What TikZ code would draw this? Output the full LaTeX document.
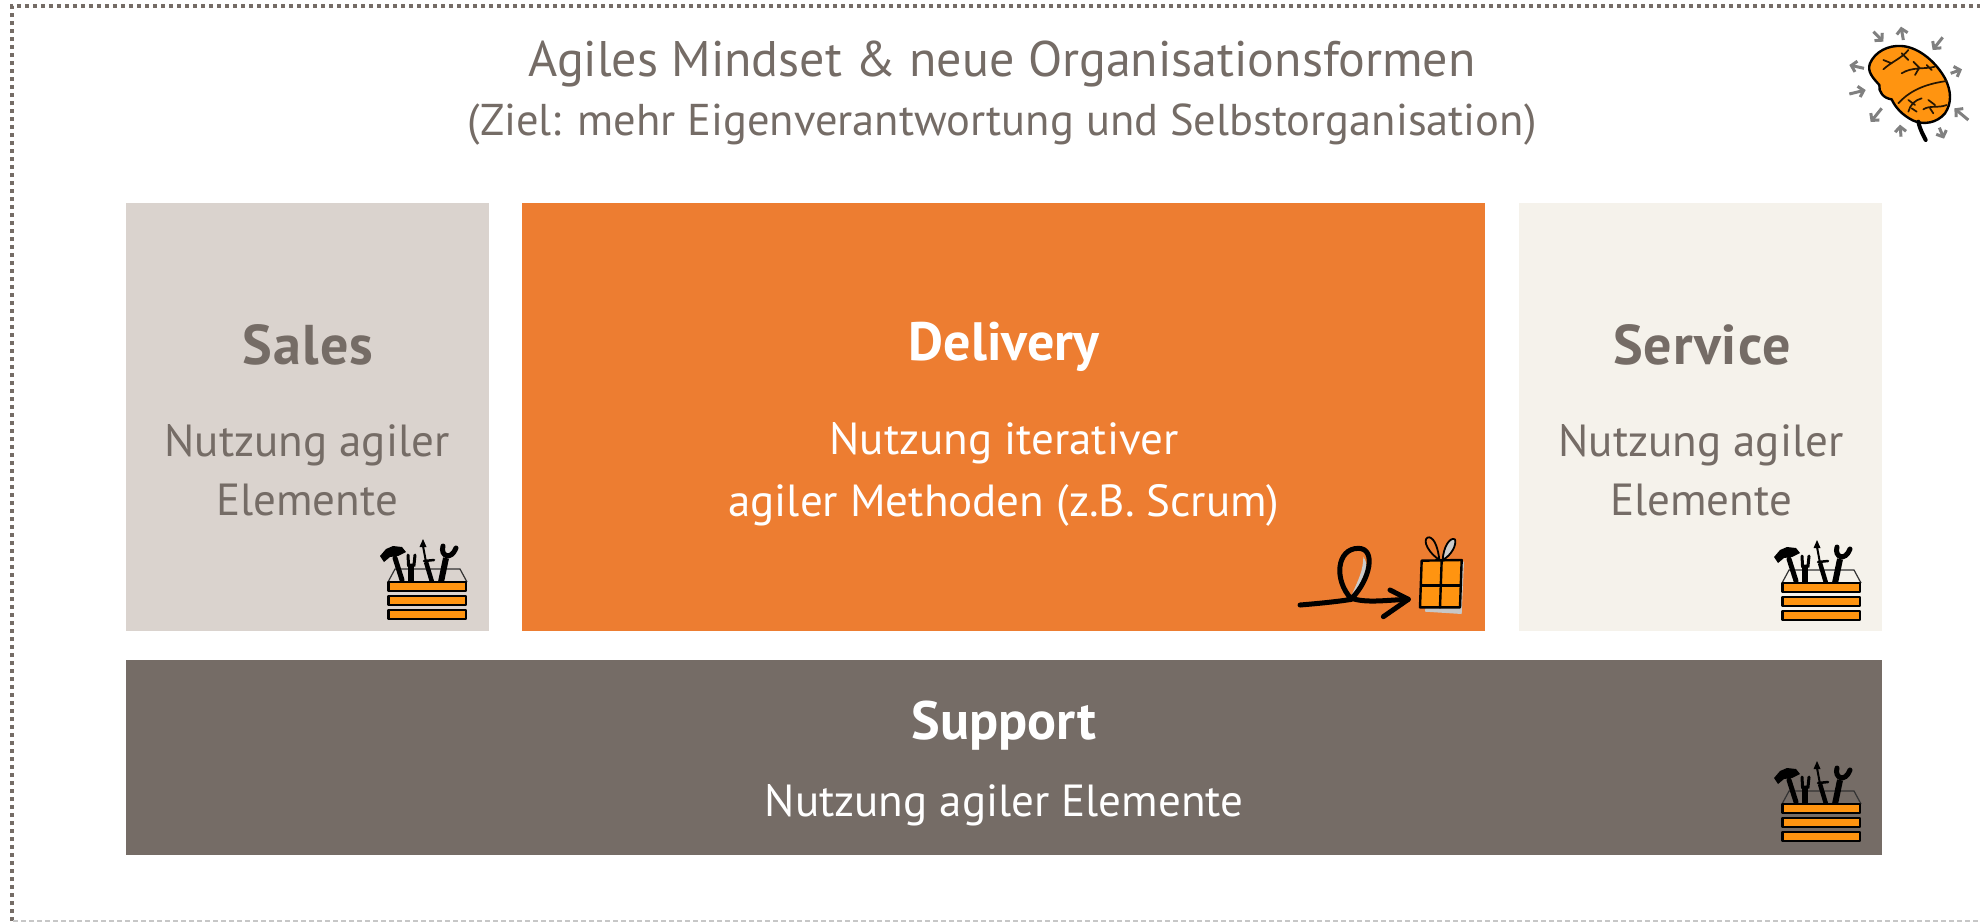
\documentclass[tikz,border=0pt]{standalone}
\usepackage{fontspec}
\setmainfont{PT Sans}
\usetikzlibrary{arrows.meta}
\definecolor{taupe}{HTML}{756C66}
\definecolor{salesgray}{HTML}{DAD3CE}
\definecolor{servicecream}{HTML}{F5F2EB}
\definecolor{deliveryorange}{HTML}{ED7D31}
\definecolor{iconorange}{HTML}{FF9410}
\begin{document}
\begin{tikzpicture}[
    x=1pt, y=-1pt,
    every node/.style={align=center, text=taupe},
    column box/.style={minimum height=428pt, inner sep=0pt},
    head label/.style={font=\fontsize{56}{60}\bfseries\selectfont\addfontfeature{LetterSpace=2}},
    body label/.style={font=\fontsize{45}{59}\selectfont},
    icon line/.style={draw=black, line width=2.4pt, line cap=round, line join=round},
    tool line/.style={draw=black, line width=5pt, line cap=round},
    crack line/.style={draw=black!85!iconorange, line width=1.7pt, line cap=round},
    brain arrow/.style={draw=black!50, line width=3pt, -{Straight Barb[length=5pt,width=11pt]}},
    tool box/.pic={
        \draw[draw=black!80, line width=1.2pt] (0,0) -- (7,-13) -- (72,-13) -- (79,0);
        \foreach \bary in {0,14,28}
            \draw[icon line, fill=iconorange] (0.5,\bary) rectangle (78,\bary+9);
        % hammer
        \draw[tool line] (14,-2) -- (7,-24);
        \fill[black] (-8,-26) -- (-4,-20) -- (2,-25) -- (10,-26) -- (18,-30) -- (14,-35) -- (5,-36) -- (-2,-33) -- cycle;
        % fork
        \draw[tool line, line cap=butt, line width=5.5pt] (23,0) -- (23,-17);
        \draw[tool line, line width=3pt] (20,-27) -- (20.5,-17) -- (26,-17) -- (27,-27);
        % screwdriver
        \draw[tool line, line width=4.5pt, line cap=butt] (44,0) -- (38,-20);
        \draw[tool line, line width=2pt] (38,-20) -- (35,-36);
        \draw[tool line, line width=2.5pt] (36,-21) -- (46,-22);
        \fill[black] (35,-43) -- (31.5,-35) -- (38.5,-35) -- cycle;
        % wrench
        \draw[tool line, line width=6pt, line cap=butt] (53,0) -- (58,-24);
        \draw[tool line, line width=5pt] (55,-36) .. controls (52,-26) and (63,-21) .. (68,-34);
        },
    ]
\useasboundingbox (0,0) rectangle (1980,922);
\fill[white] (0,0) rectangle (1980,922);
% frame
\draw[taupe, line width=4pt, dash pattern=on 4pt off 4pt] (12,921) -- (12,6) -- (1980,6);
\draw[black!22, line width=1.5pt, dash pattern=on 5pt off 3pt] (13,921) -- (1980,921);
% title
\node (title) at (1002,64) {\fontsize{50}{56}\selectfont Agiles Mindset \& neue Organisationsformen};
\node (subtitle) at (1002,125) {\fontsize{44.5}{50}\selectfont (Ziel: mehr Eigenverantwortung und Selbstorganisation)};
% columns
\node (sales) [column box, fill=salesgray, minimum width=363pt] at (307.5,417) {};
\node (delivery) [column box, fill=deliveryorange, minimum width=963pt] at (1003.5,417) {};
\node (service) [column box, fill=servicecream, minimum width=363pt] at (1700.5,417) {};
\node (support) [column box, fill=taupe, minimum width=1756pt, minimum height=195pt] at (1004,757.5) {};
\node (salesH) [head label] at (308,345) {Sales};
\node (salesT) [body label] at (307,470) {Nutzung agiler\\Elemente};
\node (deliveryH) [head label, text=white, font=\fontsize{54}{60}\bfseries\selectfont] at (1004,347) {Delivery};
\node (deliveryT) [body label, text=white, font=\fontsize{45}{62}\selectfont] at (1004,474) {Nutzung iterativer\\agiler Methoden (z.B. Scrum)};
\node (serviceH) [head label] at (1702,345) {Service};
\node (serviceT) [body label] at (1701,470) {Nutzung agiler\\Elemente};
\node (supportH) [head label, text=white, font=\fontsize{54}{60}\bfseries\selectfont] at (1004,726) {Support};
\node (supportT) [body label, text=white] at (1004,805) {Nutzung agiler Elemente};
% tool boxes
\pic at (388,582) {tool box};
\pic at (1782,583) {tool box};
\pic at (1782,804) {tool box};
% loop arrow and gift
\begin{scope}[shift={(1280,520)}, scale=1/3]
\fill[black!20] (250,110) .. controls (275,150) and (250,190) .. (215,225) .. controls (235,180) and (250,150) .. cycle;
\draw[icon line, line width=5pt] (60,255) .. controls (120,250) and (170,245) .. (215,238) .. controls (160,180) and (170,85) .. (235,85) .. controls (290,85) and (270,180) .. (215,235) .. controls (260,250) and (320,240) .. (385,238);
\draw[icon line, line width=5pt] (330,210) -- (385,238) -- (310,290);
\fill[black!22] (450,120) -- (552,125) -- (545,282) -- (435,275) -- cycle;
\draw[icon line, fill=iconorange] (425,122) -- (545,120) -- (540,262) -- (420,262) -- cycle;
\draw[icon line] (485,122) -- (480,262);
\draw[icon line] (425,197) -- (543,197);
\draw[icon line, line width=1.8pt] (478,120) .. controls (430,85) and (430,50) .. (448,52) .. controls (465,55) and (475,90) .. (478,120);
\draw[icon line, line width=1.8pt, fill=black!20] (488,120) .. controls (490,80) and (510,50) .. (525,58) .. controls (530,75) and (515,105) .. (488,120);
\end{scope}
% brain
\begin{scope}[shift={(1820,10)}, scale=1/3]
\draw[draw=black, line width=2.4pt, fill=iconorange, line join=round] (150,160) .. controls (165,125) and (205,105) .. (245,108) .. controls (300,112) and (350,160) .. (375,205) .. controls (395,245) and (395,280) .. (375,310) .. controls (350,340) and (310,345) .. (280,332) .. controls (245,315) and (225,290) .. (215,268) .. controls (190,265) and (175,245) .. (178,225) .. controls (160,205) and (140,185) .. cycle;
\draw[draw=black, line width=4pt, line cap=round] (295,335) .. controls (300,360) and (310,375) .. (317,390);
\draw[crack line] (190,178) .. controls (215,155) and (245,145) .. (265,120) (190,150) -- (215,160) (245,130) -- (265,150);
\draw[crack line] (245,190) .. controls (275,170) and (315,178) .. (345,170) (280,155) -- (300,175) (285,195) -- (295,178) (320,165) -- (335,180);
\draw[crack line] (235,280) .. controls (275,235) and (330,220) .. (380,213);
\draw[crack line] (265,305) .. controls (270,285) and (285,270) .. (305,265) (265,270) -- (285,285) (275,295) -- (290,305);
\draw[crack line] (310,298) .. controls (330,285) and (355,295) .. (380,285) (325,270) -- (345,285) (330,295) -- (340,310);
\draw[brain arrow] (160,65) -- (190,95);
\draw[brain arrow] (250,90) -- (243,50);
\draw[brain arrow] (368,82) -- (338,120);
\draw[brain arrow] (392,190) -- (426,178);
\draw[brain arrow] (132,175) -- (88,165);
\draw[brain arrow] (88,252) -- (137,240);
\draw[brain arrow] (185,295) -- (152,336);
\draw[brain arrow] (243,380) -- (240,344);
\draw[brain arrow] (358,353) -- (372,386);
\draw[brain arrow] (445,330) -- (403,295);
\end{scope}
\end{tikzpicture}
\end{document}
